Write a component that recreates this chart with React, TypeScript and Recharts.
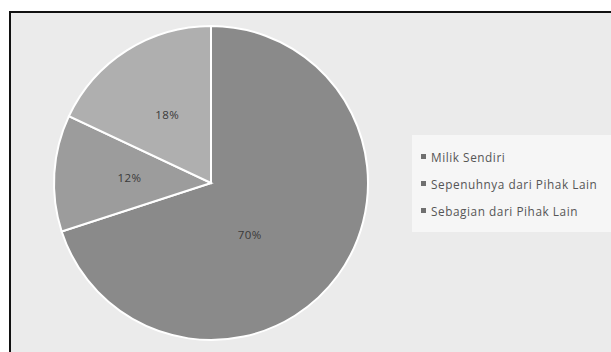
import React from "react";
import { PieChart, Pie, Cell, Legend } from "recharts";

const categories = ["Milik Sendiri", "Sepenuhnya dari Pihak Lain", "Sebagian dari Pihak Lain"];
const shares = [70, 12, 18];
const sliceColors = ["#8a8a8a", "#9c9c9c", "#afafaf"];

const data = categories.map((name, i) => ({ name, value: shares[i] }));

const RAD = Math.PI / 180;

const renderLabel = (props: any) => {
  const { cx, cy, midAngle, outerRadius, value, index } = props;
  // big slice label sits closer in and lower, like the original
  const r = outerRadius * (index === 0 ? 0.41 : 0.52);
  const a = index === 0 ? midAngle - 17 : midAngle;
  const x = cx + r * Math.cos(-a * RAD);
  const y = cy + r * Math.sin(-a * RAD);
  return (
    <text
      x={x}
      y={y}
      fill="#3a3a3a"
      fontSize={11.5}
      letterSpacing={0.4}
      fontFamily="'Open Sans', sans-serif"
      textAnchor="middle"
      dominantBaseline="central"
    >
      {value}%
    </text>
  );
};

const renderLegend = () => (
  <div
    style={{
      background: "#f6f6f6",
      padding: "8px 0 8px 9px",
      fontFamily: "'Open Sans', sans-serif",
      fontSize: 11.8,
      letterSpacing: 0.55,
      color: "#555",
    }}
  >
    {categories.map((c) => (
      <div key={c} style={{ display: "flex", alignItems: "center", height: 27, whiteSpace: "nowrap" }}>
        <span
          style={{
            display: "inline-block",
            width: 5,
            height: 5,
            background: "#6f6f6f",
            marginRight: 5,
          }}
        />
        {c}
      </div>
    ))}
  </div>
);

export default function App() {
  return (
    <div
      style={{
        position: "absolute",
        left: 0,
        top: 0,
        width: 611,
        height: 352,
        background: "#ffffff",
        overflow: "hidden",
      }}
    >
      <div
        style={{
          position: "absolute",
          left: 9,
          top: 11,
          width: 620,
          height: 360,
          borderLeft: "2px solid #111",
          borderTop: "2px solid #111",
          background: "#ebebeb",
        }}
      />
      <div style={{ position: "absolute", left: 0, top: 0 }}>
        <PieChart width={611} height={352} margin={{ top: 0, right: 0, bottom: 0, left: 0 }}>
          <Pie
            data={data}
            dataKey="value"
            nameKey="name"
            cx={211}
            cy={183}
            outerRadius={157}
            startAngle={90}
            endAngle={-270}
            stroke="#ffffff"
            strokeWidth={2}
            label={renderLabel}
            labelLine={false}
            isAnimationActive={false}
          >
            {data.map((d, i) => (
              <Cell key={d.name} fill={sliceColors[i]} />
            ))}
          </Pie>
          <Legend
            content={renderLegend}
            layout="vertical"
            wrapperStyle={{ left: 412, top: 135, width: 199 }}
          />
        </PieChart>
      </div>
    </div>
  );
}
